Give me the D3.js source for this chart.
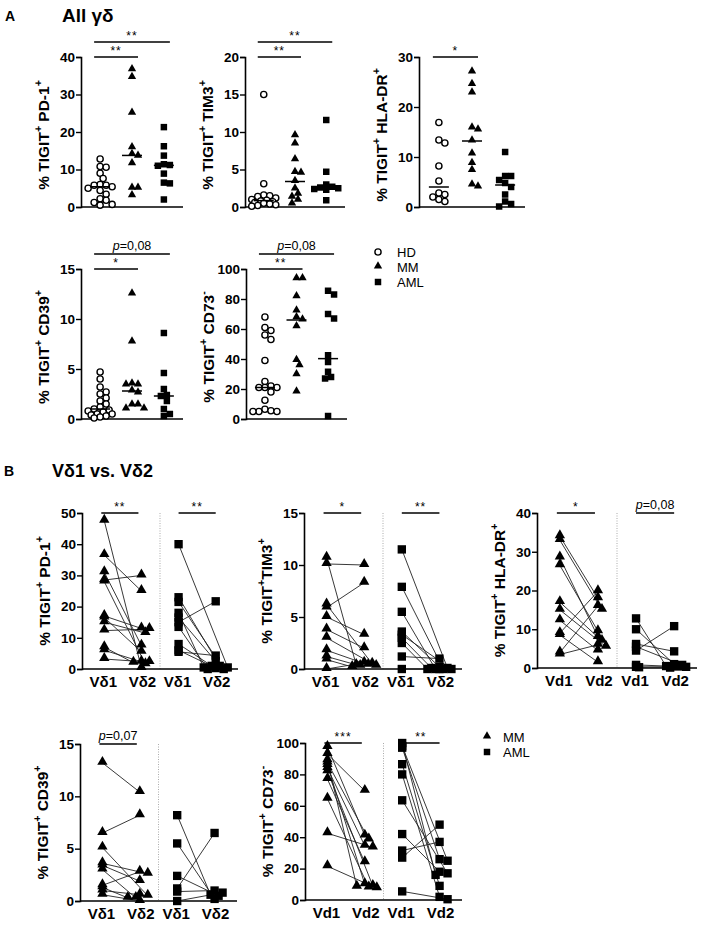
<!DOCTYPE html>
<html>
<head>
<meta charset="UTF-8" />
<title>TIGIT gd</title>
<script src="https://d3js.org/d3.v7.min.js"></script>
<style>
  body { margin: 0; background: #fff; }
  text { font-family: Arial, "Liberation Sans", sans-serif; fill: #000; }
</style>
</head>
<body>
<script type="text/javascript">

// ---- panel A data (All gd), one array per group ----
var pd1HD  = [12.8, 10.8, 10.6, 9.0, 7.6, 6.0, 5.8, 5.8, 5.4, 5.0, 4.4, 3.4, 2.2, 1.8, 1.2, 0.7, 0.5]
var pd1MM  = [36.6, 34.5, 25, 15.8, 13.5, 14, 11.5, 5, 5, 3]
var pd1AML = [21.3, 16.2, 13.7, 11.4, 11.2, 11, 8.9, 6.5, 6.3, 2]

var tim3HD  = [15, 3.1, 1.6, 1.5, 1.4, 1.2, 1.0, 0.9, 0.8, 0.7, 0.6, 0.5, 0.4, 0.3, 0.2, 0.1]
var tim3MM  = [9.5, 8.4, 6.3, 4.6, 4.5, 3.4, 2.4, 1.7, 1.3, 0.9, 0.4]
var tim3AML = [11.6, 4.7, 3.0, 2.7, 2.6, 2.5, 2.4, 2.3, 0.9]

var hlaHD  = [16.9, 13.4, 12.8, 8.2, 5.2, 2.8, 2.5, 2.0, 1.5, 1.1]
var hlaMM  = [27, 24.5, 22.8, 15.8, 15.4, 13.2, 10.6, 8.7, 7.3, 4.4, 4.0]
var hlaAML = [11, 6.2, 6.2, 5.4, 4.8, 4.0, 2.5, 1.1, 0.6, 0.1]

var cd39HD  = [4.7, 4.0, 3.2, 2.7, 2.5, 2.1, 1.8, 1.5, 1.2, 1.0, 0.9, 0.8, 0.7, 0.5, 0.5, 0.4, 0.3, 0.2, 0.1]
var cd39MM  = [12.5, 7.7, 3.5, 3.4, 3.4, 2.8, 2.6, 1.4, 1.4, 1.0, 1.0]
var cd39AML = [8.6, 4.6, 3.0, 2.4, 2.3, 1.8, 1.0, 0.5, 0.3]

var cd73HD  = [68, 61, 59, 56, 53, 39, 25, 22, 21, 21, 21, 18, 12.5, 6.5, 5.5, 5, 5, 5]
var cd73MM  = [93.5, 93.5, 81.5, 72, 67.5, 66, 61.5, 39, 35.5, 29.5, 18]
var cd73AML = [85.5, 83, 70, 67, 42.5, 38, 31.5, 28, 27, 2]

var groupsA = ["HD", "MM", "AML"]

// ---- panel B data (Vd1 vs Vd2), paired values ----
var pd1MMv1  = [47.5, 36.5, 31, 28.5, 28, 17, 16.5, 15, 12.3, 7, 6, 3.2]
var pd1MMv2  = [0.3, 25, 7.5, 30, 1.5, 13, 5.5, 11.5, 12.8, 2, 2.3, 2.2]
var pd1AMLv1 = [40, 23, 21.5, 18, 16.5, 15, 13.5, 8, 6, 5.5]
var pd1AMLv2 = [0.5, 1, 0, 0.5, 2.5, 21.7, 0, 1, 0.3, 4.3]

var tim3MMv1  = [10.7, 10.1, 6.2, 5.9, 5.0, 3.8, 3.0, 1.8, 1.2, 0.9, 0]
var tim3MMv2  = [0.4, 10, 0.5, 8.3, 3.3, 2.0, 0.3, 0.4, 0.3, 0.2, 0.6]
var tim3AMLv1 = [11.5, 7.9, 5.5, 3.6, 3.3, 3.0, 2.5, 1.2, 0]
var tim3AMLv2 = [0.1, 0, 0, 0.2, 0, 0.1, 0, 1.0, 0]

var hlaMMv1  = [34, 33, 28.5, 26.5, 17, 15, 12.3, 9, 8.5, 4, 3.5]
var hlaMMv2  = [18, 15, 8, 9.5, 7, 5.5, 4.5, 19.8, 1.5, 16, 6]
var hlaAMLv1 = [12.8, 10, 6.2, 5.5, 4.5, 0.8, 0.3, 0.2]
var hlaAMLv2 = [0.5, 1.0, 4.3, 0.8, 10.8, 0.3, 0.1, 0.4]

var cd39MMv1  = [13.2, 6.5, 5.1, 3.6, 3.4, 3.0, 1.5, 1.3, 1.0, 0.6]
var cd39MMv2  = [10.4, 8.2, 0.5, 2.6, 1.9, 0.3, 2.8, 0.3, 0.6, 0]
var cd39AMLv1 = [8.2, 5.5, 2.4, 1.2, 0.9, 0]
var cd39AMLv2 = [0.6, 0.2, 0.5, 6.5, 1.0, 0.8]

var cd73MMv1  = [97.5, 93, 89, 87.5, 86, 84, 82, 77, 64.5, 42.5, 21.5]
var cd73MMv2  = [41, 69.5, 8.5, 38.5, 10, 34.5, 9, 24, 8, 33.5, 7.5]
var cd73AMLv1 = [100, 97, 86.5, 80, 63.5, 42, 31.5, 27, 5.5, 98]
var cd73AMLv2 = [16, 26, 9, 2, 17, 18, 37, 48, 0.5, 25]

var catsGreek = ["Vδ1", "Vδ2"]
var catsLatin = ["Vd1", "Vd2"]

var width = 702
var height = 926

var svg = d3.select("body").append("svg")
    .attr("width", width)
    .attr("height", height)

svg.append("rect").attr("width", width).attr("height", height).attr("fill", "#fff")

// spread points sideways (limited), like the prism scatter
function swarm(vals, y, cx, minDist, step, maxOff) {
    var placed = []
    var xs = new Array(vals.length)
    var order = vals.map(function(v, i) { return i }).sort(function(a, b) { return vals[b] - vals[a] })
    order.forEach(function(i) {
        var py = y(vals[i])
        var best = cx, bestD = -1
        for (var k = 0; k < 60; k++) {
            var off = (k % 2 ? 1 : -1) * Math.ceil(k / 2) * step
            if (Math.abs(off) > maxOff) break
            var px = cx + off
            var d = d3.min(placed, function(p) { return Math.hypot(p[0] - px, p[1] - py) })
            if (d === undefined) d = 1e9
            if (d >= minDist) { best = px; bestD = d; break }
            if (d > bestD) { best = px; bestD = d }
        }
        xs[i] = best
        placed.push([best, py])
    })
    return xs
}

function marker(g, kind, x, y, big) {
    if (kind == "HD") {
        g.append("circle").attr("cx", x).attr("cy", y).attr("r", 3.1)
            .attr("fill", "#fff").attr("stroke", "#000").attr("stroke-width", 1.4)
    } else {
        var sym = kind == "MM" ? d3.symbolTriangle : d3.symbolSquare
        var size = kind == "MM" ? (big ? 46 : 30) : (big ? 70 : 42)
        g.append("path").attr("d", d3.symbol().type(sym).size(size)())
            .attr("transform", "translate(" + x + "," + (kind == "MM" ? y - 1 : y) + ")")
            .attr("fill", "#000")
    }
}

function yLabel(g, x, y, parts) {
    var t = g.append("text")
        .attr("transform", "translate(" + x + "," + y + ") rotate(-90)")
        .attr("text-anchor", "middle")
        .attr("font-size", 15.5).attr("font-weight", "bold")
    parts.forEach(function(p, i) {
        var sup = i % 2 == 1
        var ts = t.append("tspan").text(p)
        if (sup) ts.attr("font-size", 10.5).attr("dy", -7)
        else if (i > 0) ts.attr("dy", 7)
    })
}

function leftAxis(g, x0, y, ticks) {
    var ax = g.append("g").attr("transform", "translate(" + x0 + ",0)")
        .call(d3.axisLeft(y).tickValues(ticks).tickSize(5).tickPadding(1).tickFormat(d3.format("d")))
    ax.select(".domain").attr("stroke-width", 1.6)
    ax.selectAll(".tick line").attr("stroke-width", 1.4)
    ax.selectAll("text").attr("font-size", 13.5).attr("font-weight", "bold")
        .attr("font-family", "Arial, 'Liberation Sans', sans-serif").attr("fill", "#000")
}

function sigBar(g, xa, xb, yy, label) {
    g.append("line").attr("x1", xa).attr("x2", xb).attr("y1", yy).attr("y2", yy)
        .attr("stroke", "#000").attr("stroke-width", 1.5)
    var t = g.append("text").attr("x", (xa + xb) / 2).attr("text-anchor", "middle").attr("fill", "#000")
    if (label.charAt(0) == "p") {
        t.attr("y", yy - 4).attr("font-size", 12.5)
        t.append("tspan").attr("font-style", "italic").text("p")
        t.append("tspan").text(label.slice(1))
    } else {
        t.attr("y", yy - 2).attr("font-size", 12).attr("letter-spacing", 1).text(label)
    }
}

// ---------- panel A ----------
var panelsA = [
    {x0: 81, x1: 183, top: 57, bot: 207, max: 40, ticks: [0, 10, 20, 30, 40],
     label: ["% TIGIT", "+", " PD-1", "+"], data: [pd1HD, pd1MM, pd1AML],
     sig: [[0, 1, "**"], [0, 2, "**"]]},
    {x0: 245, x1: 345, top: 57, bot: 207, max: 20, ticks: [0, 5, 10, 15, 20],
     label: ["% TIGIT", "+", " TIM3", "+"], data: [tim3HD, tim3MM, tim3AML],
     sig: [[0, 1, "**"], [0, 2, "**"]]},
    {x0: 419, x1: 525, top: 57, bot: 207, max: 30, ticks: [0, 10, 20, 30],
     label: ["% TIGIT", "+", " HLA-DR", "+"], data: [hlaHD, hlaMM, hlaAML],
     sig: [[0, 1, "*"]]},
    {x0: 81, x1: 183, top: 269, bot: 419, max: 15, ticks: [0, 5, 10, 15],
     label: ["% TIGIT", "+", " CD39", "+"], data: [cd39HD, cd39MM, cd39AML],
     sig: [[0, 1, "*"], [0, 2, "p=0,08"]]},
    {x0: 246, x1: 347, top: 269, bot: 419, max: 100, ticks: [0, 20, 40, 60, 80, 100],
     label: ["% TIGIT", "+", " CD73", "-"], data: [cd73HD, cd73MM, cd73AML],
     sig: [[0, 1, "**"], [0, 2, "p=0,08"]]}
]

panelsA.forEach(function(p) {
    var g = svg.append("g")
    var y = d3.scaleLinear().domain([0, p.max]).range([p.bot, p.top])
    var x = d3.scalePoint().domain(groupsA).range([p.x0, p.x1]).padding(0.6)

    g.append("line").attr("x1", p.x0).attr("x2", p.x1).attr("y1", p.bot).attr("y2", p.bot)
        .attr("stroke", "#000").attr("stroke-width", 1.6)
    leftAxis(g, p.x0, y, p.ticks)
    yLabel(g, p.x0 - 32, (p.top + p.bot) / 2 + 3, p.label)

    p.data.forEach(function(vals, gi) {
        var cx = x(groupsA[gi])
        var xs = swarm(vals, y, cx, 6, 3, 12)
        vals.forEach(function(v, i) { marker(g, groupsA[gi], xs[i], y(v), false) })
        var med = d3.median(vals)
        g.append("line").attr("x1", cx - 10).attr("x2", cx + 10)
            .attr("y1", y(med)).attr("y2", y(med)).attr("stroke", "#000").attr("stroke-width", 1.5)
    })

    p.sig.forEach(function(s, si) {
        var yy = p.top - si * 15
        sigBar(g, x(groupsA[s[0]]) - 6, x(groupsA[s[1]]) + 6, yy, s[2])
    })
})

// ---------- panel B ----------
var panelsB = [
    {x0: 82, x1: 238, top: 513, bot: 669, max: 50, ticks: [0, 10, 20, 30, 40, 50],
     label: ["% TIGIT", "+", " PD-1", "+"], cats: catsGreek,
     mm: [pd1MMv1, pd1MMv2], aml: [pd1AMLv1, pd1AMLv2], sig: ["**", "**"]},
    {x0: 304, x1: 462, top: 513, bot: 669, max: 15, ticks: [0, 5, 10, 15],
     label: ["% TIGIT", "+", "TIM3", "+"], cats: catsGreek,
     mm: [tim3MMv1, tim3MMv2], aml: [tim3AMLv1, tim3AMLv2], sig: ["*", "**"]},
    {x0: 537, x1: 697, top: 513, bot: 668, max: 40, ticks: [0, 10, 20, 30, 40],
     label: ["% TIGIT", "+", " HLA-DR", "+"], cats: catsLatin,
     mm: [hlaMMv1, hlaMMv2], aml: [hlaAMLv1, hlaAMLv2], sig: ["*", "p=0,08"]},
    {x0: 80, x1: 237, top: 744, bot: 901, max: 15, ticks: [0, 5, 10, 15],
     label: ["% TIGIT", "+", " CD39", "+"], cats: catsGreek,
     mm: [cd39MMv1, cd39MMv2], aml: [cd39AMLv1, cd39AMLv2], sig: ["p=0,07", null]},
    {x0: 305, x1: 462, top: 743, bot: 900, max: 100, ticks: [0, 20, 40, 60, 80, 100],
     label: ["% TIGIT", "+", " CD73", "-"], cats: catsLatin,
     mm: [cd73MMv1, cd73MMv2], aml: [cd73AMLv1, cd73AMLv2], sig: ["***", "**"]}
]

panelsB.forEach(function(p) {
    var g = svg.append("g")
    var y = d3.scaleLinear().domain([0, p.max]).range([p.bot, p.top])
    var keys = ["mm1", "mm2", "aml1", "aml2"]
    var x = d3.scalePoint().domain(keys).range([p.x0, p.x1]).padding(0.6)
    var mid = (p.x0 + p.x1) / 2

    g.append("line").attr("x1", mid).attr("x2", mid).attr("y1", p.top).attr("y2", p.bot)
        .attr("stroke", "#aaa").attr("stroke-width", 1).attr("stroke-dasharray", "1,1.5")
    g.append("line").attr("x1", p.x0).attr("x2", p.x1).attr("y1", p.bot).attr("y2", p.bot)
        .attr("stroke", "#000").attr("stroke-width", 1.6)
    leftAxis(g, p.x0, y, p.ticks)
    yLabel(g, p.x0 - 32, (p.top + p.bot) / 2, p.label)

    var sets = [["MM", p.mm, "mm1", "mm2"], ["AML", p.aml, "aml1", "aml2"]]
    sets.forEach(function(s) {
        var v1 = s[1][0], v2 = s[1][1]
        var xs1 = swarm(v1, y, x(s[2]), 1, 3, 3)
        var xs2 = swarm(v2, y, x(s[3]), 5, 4, 12)
        v1.forEach(function(v, i) {
            g.append("line").attr("x1", xs1[i]).attr("y1", y(v))
                .attr("x2", xs2[i]).attr("y2", y(v2[i]))
                .attr("stroke", "#222").attr("stroke-width", 0.9)
        })
        v1.forEach(function(v, i) { marker(g, s[0], xs1[i], y(v), true) })
        v2.forEach(function(v, i) { marker(g, s[0], xs2[i], y(v), true) })
        g.append("text").attr("x", x(s[2]) - 1).attr("y", p.bot + 18).attr("text-anchor", "middle")
            .attr("font-size", 15).attr("font-weight", "bold").text(p.cats[0])
        g.append("text").attr("x", x(s[3]) + 1).attr("y", p.bot + 18).attr("text-anchor", "middle")
            .attr("font-size", 15).attr("font-weight", "bold").text(p.cats[1])
    })

    if (p.sig[0]) sigBar(g, x("mm1") - 3, x("mm2") - 3, p.top, p.sig[0])
    if (p.sig[1]) sigBar(g, x("aml1"), x("aml2"), p.top, p.sig[1])
})

// ---------- titles ----------
svg.append("text").attr("x", 5).attr("y", 21).attr("font-size", 14).attr("font-weight", "bold").text("A")
svg.append("text").attr("x", 62).attr("y", 22).attr("font-size", 19).attr("font-weight", "bold").text("All γδ")
svg.append("text").attr("x", 4).attr("y", 476).attr("font-size", 14).attr("font-weight", "bold").text("B")
svg.append("text").attr("x", 52).attr("y", 477).attr("font-size", 18).attr("font-weight", "bold").text("Vδ1 vs. Vδ2")

// ---------- legends ----------
var legA = svg.append("g")
groupsA.forEach(function(k, i) {
    var yy = 252 + i * 15
    marker(legA, k, 378, yy, false)
    legA.append("text").attr("x", 397).attr("y", yy + 5).attr("font-size", 13).text(k)
})
var legB = svg.append("g")
;["MM", "AML"].forEach(function(k, i) {
    var yy = 737 + i * 15
    marker(legB, k, 487, yy, false)
    legB.append("text").attr("x", 503).attr("y", yy + 5).attr("font-size", 13).text(k)
})

</script>
</body>
</html>
